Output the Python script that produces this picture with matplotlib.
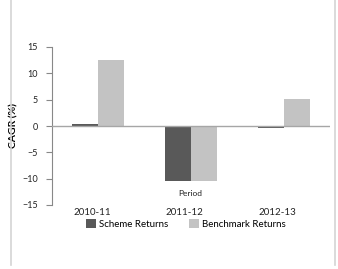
import matplotlib
matplotlib.use('Agg')
import matplotlib.pyplot as plt
from matplotlib.lines import Line2D
import numpy as np

plt.rcParams['font.family'] = ['Lato', 'DejaVu Sans']

periods = ['2010-11', '2011-12', '2012-13']
scheme = [0.3, -10.5, -0.3]
benchmark = [12.5, -10.5, 5.1]

W, H = 338, 269
fig = plt.figure(figsize=(W / 100, H / 100), dpi=100)
ax = fig.add_axes([52 / W, 1 - 205 / H, (330 - 52) / W, 158 / H])

x = np.arange(len(periods))
w = 0.28
ax.bar(x - w / 2, scheme, w, color='#595959', label='Scheme Returns', zorder=2)
ax.bar(x + w / 2, benchmark, w, color='#c3c3c3', label='Benchmark Returns', zorder=2)
ax.axhline(0, color='#a6a6a6', linewidth=1.0, zorder=3)

ax.set_xlim(-0.5, 2.5)
ax.set_ylim(-15, 15)
ax.set_yticks([-15, -10, -5, 0, 5, 10, 15])
ax.set_xticks(x - 0.07)
ax.set_xticklabels(periods, fontsize=7, color='#222222')
ax.tick_params(axis='x', length=0, pad=2)
ax.tick_params(axis='y', length=4, width=0.8, color='#888888', labelsize=6.5,
               labelcolor='#222222', pad=6)
for s in ['top', 'right', 'bottom']:
    ax.spines[s].set_visible(False)
ax.spines['left'].set_color('#888888')
ax.spines['left'].set_linewidth(0.8)
ax.set_ylabel('CAGR (%)', fontsize=7.5, fontweight='bold', labelpad=3)

fig.text(190 / W, 1 - 193 / H, 'Period', fontsize=6, ha='center', va='center', color='#222222')

ax.legend(loc='center', bbox_to_anchor=(0.5 + (186 - 191) / 278, (205 - 224) / 158),
          ncol=2, frameon=False, fontsize=7, handlelength=1.0, handleheight=1.0,
          handletextpad=0.3, columnspacing=2.2)

fig.add_artist(Line2D([10.5 / W, 10.5 / W], [1 - 265 / H, 1], color='#d4d4d4', lw=1.2))
fig.add_artist(Line2D([335 / W, 335 / W], [1 - 265 / H, 1], color='#d4d4d4', lw=1.2))

fig.savefig('out.png', dpi=100)
